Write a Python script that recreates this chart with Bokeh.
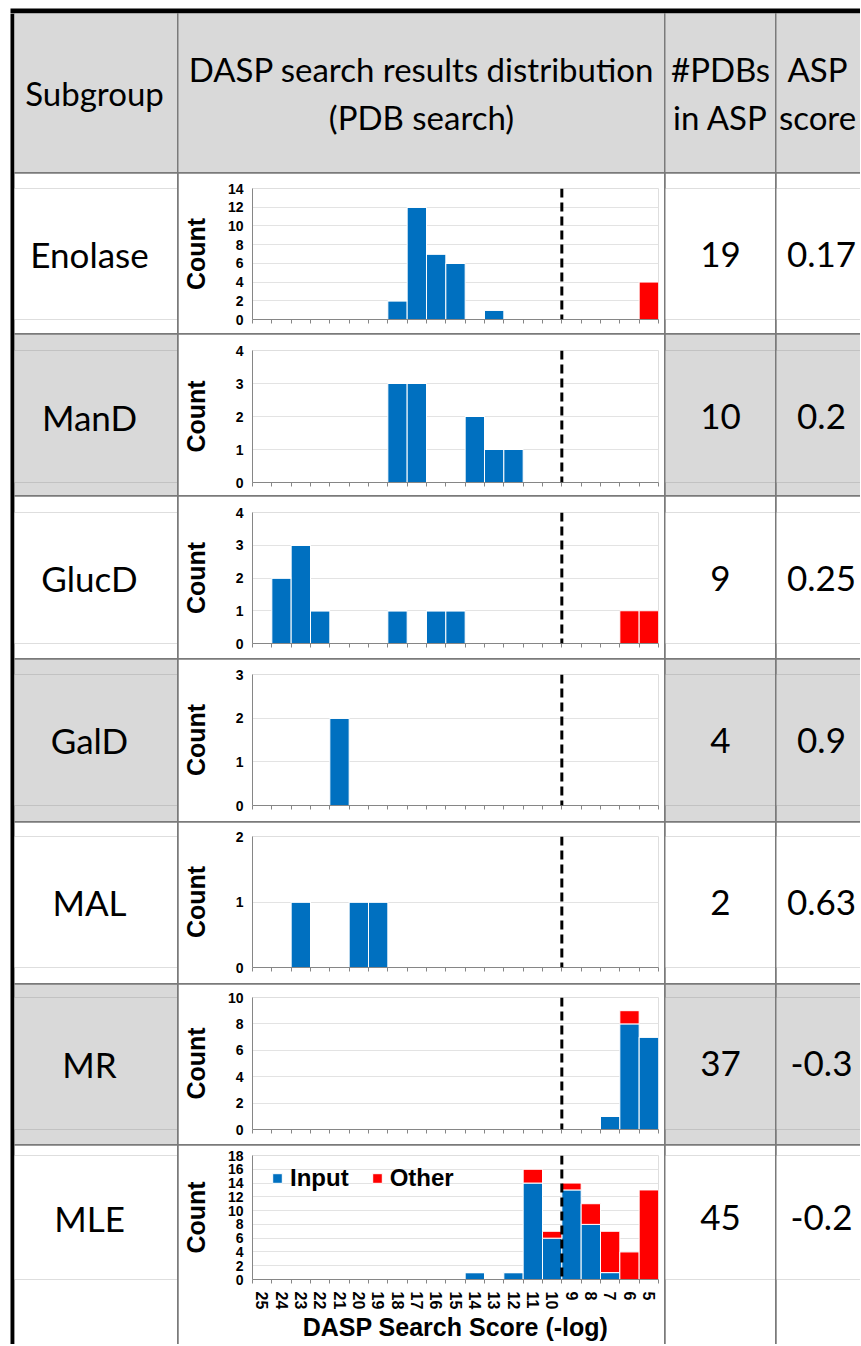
from bokeh.plotting import figure
from bokeh.layouts import row, column
from bokeh.models import Range1d, ColumnDataSource, Span, FixedTicker
from bokeh.core.properties import value
from bokeh.embed import file_html
from bokeh.resources import INLINE

# ---------------- data ----------------
subgroups = ["Enolase", "ManD", "GlucD", "GalD", "MAL", "MR", "MLE"]
n_pdbs = [19, 10, 9, 4, 2, 37, 45]
asp_scores = [0.17, 0.2, 0.25, 0.9, 0.63, -0.3, -0.2]
scores = [25, 24, 23, 22, 21, 20, 19, 18, 17, 16, 15, 14, 13, 12, 11, 10, 9, 8, 7, 6, 5]
cutoff_score = 9.5

enolase_input = [0, 0, 0, 0, 0, 0, 0, 2, 12, 7, 6, 0, 1, 0, 0, 0, 0, 0, 0, 0, 0]
enolase_other = [0, 0, 0, 0, 0, 0, 0, 0, 0, 0, 0, 0, 0, 0, 0, 0, 0, 0, 0, 0, 4]
mand_input = [0, 0, 0, 0, 0, 0, 0, 3, 3, 0, 0, 2, 1, 1, 0, 0, 0, 0, 0, 0, 0]
mand_other = [0, 0, 0, 0, 0, 0, 0, 0, 0, 0, 0, 0, 0, 0, 0, 0, 0, 0, 0, 0, 0]
glucd_input = [0, 2, 3, 1, 0, 0, 0, 1, 0, 1, 1, 0, 0, 0, 0, 0, 0, 0, 0, 0, 0]
glucd_other = [0, 0, 0, 0, 0, 0, 0, 0, 0, 0, 0, 0, 0, 0, 0, 0, 0, 0, 0, 1, 1]
gald_input = [0, 0, 0, 0, 2, 0, 0, 0, 0, 0, 0, 0, 0, 0, 0, 0, 0, 0, 0, 0, 0]
gald_other = [0, 0, 0, 0, 0, 0, 0, 0, 0, 0, 0, 0, 0, 0, 0, 0, 0, 0, 0, 0, 0]
mal_input = [0, 0, 1, 0, 0, 1, 1, 0, 0, 0, 0, 0, 0, 0, 0, 0, 0, 0, 0, 0, 0]
mal_other = [0, 0, 0, 0, 0, 0, 0, 0, 0, 0, 0, 0, 0, 0, 0, 0, 0, 0, 0, 0, 0]
mr_input = [0, 0, 0, 0, 0, 0, 0, 0, 0, 0, 0, 0, 0, 0, 0, 0, 0, 0, 1, 8, 7]
mr_other = [0, 0, 0, 0, 0, 0, 0, 0, 0, 0, 0, 0, 0, 0, 0, 0, 0, 0, 0, 1, 0]
mle_input = [0, 0, 0, 0, 0, 0, 0, 0, 0, 0, 0, 1, 0, 1, 14, 6, 13, 8, 1, 0, 0]
mle_other = [0, 0, 0, 0, 0, 0, 0, 0, 0, 0, 0, 0, 0, 0, 2, 1, 1, 3, 6, 4, 13]

input_counts = [enolase_input, mand_input, glucd_input, gald_input, mal_input, mr_input, mle_input]
other_counts = [enolase_other, mand_other, glucd_other, gald_other, mal_other, mr_other, mle_other]

y_max = [14, 4, 4, 3, 2, 10, 18]
y_step = [2, 1, 1, 1, 1, 2, 2]

header_texts = [["Subgroup"],
                ["DASP search results distribution", "(PDB search)"],
                ["#PDBs", "in ASP"],
                ["ASP", "score"]]
legend_labels = ["Input", "Other"]
x_title = "DASP Search Score (-log)"
y_title = "Count"

# ---------------- style / layout ----------------
BLUE = "#0070C0"
RED = "#FF0000"
GRID = "#e3e3e3"
AXIS = "#868686"
LINE = "#7a7a7a"
GRAY_BG = "#d9d9d9"
CELL_FONT = value("Lato")
CELL_SIZE = "35px"
HEAD_SIZE = "33px"
CHART_FONT = "Liberation Sans"

col_w = [163, 486, 110, 84]
header_h = 159
row_h = [160, 161, 162, 162, 161, 160, 199]
chart_top = [15, 16, 16, 15, 14, 13, 10]
chart_frame_h = [131, 132, 131, 131, 131, 132, 132]
row_bg = ["white", GRAY_BG, "white", GRAY_BG, "white", GRAY_BG, "white"]


def base_fig(w, h, bg, frame_bg=None, top=0, left=0):
    f = figure(width=w, height=h, x_range=Range1d(0, 1), y_range=Range1d(0, 1),
               output_backend="svg", toolbar_location=None, tools="", title=None,
               x_axis_location=None, y_axis_location=None,
               min_border_top=top, min_border_left=left,
               min_border_right=0, min_border_bottom=0)
    f.grid.visible = False
    f.outline_line_color = None
    f.background_fill_color = bg if frame_bg is None else frame_bg
    f.border_fill_color = bg
    return f


def text_cell(w, h, bg, lines, cx=None, spacing=48, size=CELL_SIZE):
    f = base_fig(w, h, bg)
    f.x_range = Range1d(0, w)
    f.y_range = Range1d(0, h)
    x0 = w / 2 if cx is None else cx
    n = len(lines)
    ys = [h / 2 + spacing * ((n - 1) / 2 - k) for k in range(n)]
    f.text(x=[x0] * n, y=ys, text=lines, text_font=CELL_FONT, text_font_size=size,
           text_align="center", text_baseline="middle", text_color="black")
    return f


def hist_cell(i, h):
    last = (i == len(subgroups) - 1)
    top = chart_top[i]
    frame_h = chart_frame_h[i]
    f = figure(width=col_w[1], height=h, title=None,
               x_range=Range1d(scores[0] + 0.5, scores[-1] - 0.5),
               y_range=Range1d(0, y_max[i]),
               output_backend="svg", toolbar_location=None, tools="",
               min_border_left=71, min_border_right=6,
               min_border_top=top, min_border_bottom=h - top - frame_h)
    f.background_fill_color = "white"
    f.border_fill_color = "white"
    f.outline_line_color = None
    src = ColumnDataSource(dict(score=scores, Input=input_counts[i], Other=other_counts[i]))
    kw = dict(legend_label=legend_labels) if last else {}
    f.vbar_stack(["Input", "Other"], x="score", width=1, source=src,
                 fill_color=[BLUE, RED], line_color="white", line_width=1, **kw)

    boundaries = [s + 0.5 for s in scores] + [scores[-1] - 0.5]
    xa = f.xaxis[0]
    xa.ticker = FixedTicker(ticks=scores if last else [], minor_ticks=boundaries)
    xa.axis_line_color = AXIS
    xa.major_tick_line_color = None
    xa.major_tick_out = 0
    xa.major_tick_in = 0
    xa.minor_tick_line_color = AXIS
    xa.minor_tick_out = 4
    xa.minor_tick_in = 0
    if last:
        xa.major_label_orientation = "vertical"
        xa.major_label_text_font = CHART_FONT
        xa.major_label_text_font_style = "bold"
        xa.major_label_text_font_size = "16px"
        xa.major_label_text_color = "black"
        xa.major_label_standoff = 8
        xa.axis_label = x_title
        xa.axis_label_text_font = CHART_FONT
        xa.axis_label_text_font_style = "bold"
        xa.axis_label_text_font_size = "25px"
        xa.axis_label_text_color = "black"
        xa.axis_label_standoff = 1

    ya = f.yaxis[0]
    ya.ticker = FixedTicker(ticks=list(range(0, y_max[i] + 1, y_step[i])))
    ya.axis_line_color = AXIS
    ya.major_tick_line_color = None
    ya.minor_tick_line_color = None
    ya.major_tick_out = 0
    ya.major_tick_in = 0
    ya.major_label_text_font = CHART_FONT
    ya.major_label_text_font_style = "bold"
    ya.major_label_text_font_size = "14px"
    ya.major_label_text_color = "black"
    ya.major_label_standoff = 9
    ya.axis_label = y_title
    ya.axis_label_text_font = CHART_FONT
    ya.axis_label_text_font_style = "bold"
    ya.axis_label_text_font_size = "25px"
    ya.axis_label_text_color = "black"
    ya.axis_label_standoff = 15 if y_max[i] >= 10 else 23

    f.xgrid.grid_line_color = None
    f.ygrid.grid_line_color = GRID
    f.ygrid.grid_line_width = 1

    f.add_layout(Span(location=cutoff_score, dimension="height", line_color="black",
                      line_width=3, line_dash="9 5"))

    if last:
        leg = f.legend[0]
        leg.orientation = "horizontal"
        leg.location = (19, frame_h - 45)
        leg.margin = 0
        leg.padding = 0
        leg.background_fill_alpha = 0
        leg.border_line_color = None
        leg.label_text_font = CHART_FONT
        leg.label_text_font_style = "bold"
        leg.label_text_font_size = "24px"
        leg.label_text_color = "black"
        leg.glyph_width = 12
        leg.glyph_height = 12
        leg.label_standoff = 7
        leg.spacing = 22
        leg.label_height = 24
    return f


def grid_row(children):
    return row(children, spacing=1, styles={"background-color": LINE})


rows = []
hdr = [
    text_cell(col_w[0], header_h, GRAY_BG, header_texts[0], cx=80, size=HEAD_SIZE),
    text_cell(col_w[1], header_h, GRAY_BG, header_texts[1], size=HEAD_SIZE),
    text_cell(col_w[2], header_h, GRAY_BG, header_texts[2], cx=55, size=HEAD_SIZE),
    text_cell(col_w[3], header_h, GRAY_BG, header_texts[3], cx=41, size=HEAD_SIZE),
]
rows.append(grid_row(hdr))
for i, name in enumerate(subgroups):
    h = row_h[i]
    bg = row_bg[i]
    rows.append(grid_row([
        text_cell(col_w[0], h, bg, [name], cx=75),
        hist_cell(i, h),
        text_cell(col_w[2], h, bg, [str(n_pdbs[i])], cx=55),
        text_cell(col_w[3], h, bg, [str(asp_scores[i])], cx=45),
    ]))

table = column(rows, spacing=1, styles={"background-color": LINE})
table_h = header_h + sum(row_h) + len(row_h)
table_w = sum(col_w) + 3

# top border: white margin (8px) above a 5px black band starting at x=10
top_band = base_fig(10 + 4 + table_w, 13, "white", frame_bg="black", top=8, left=10)
body = row([base_fig(10, table_h, "white"), base_fig(4, table_h, "black"), table], spacing=0)
root = column([top_band, body], spacing=0)

open("out.html", "w").write(file_html(root, INLINE))
